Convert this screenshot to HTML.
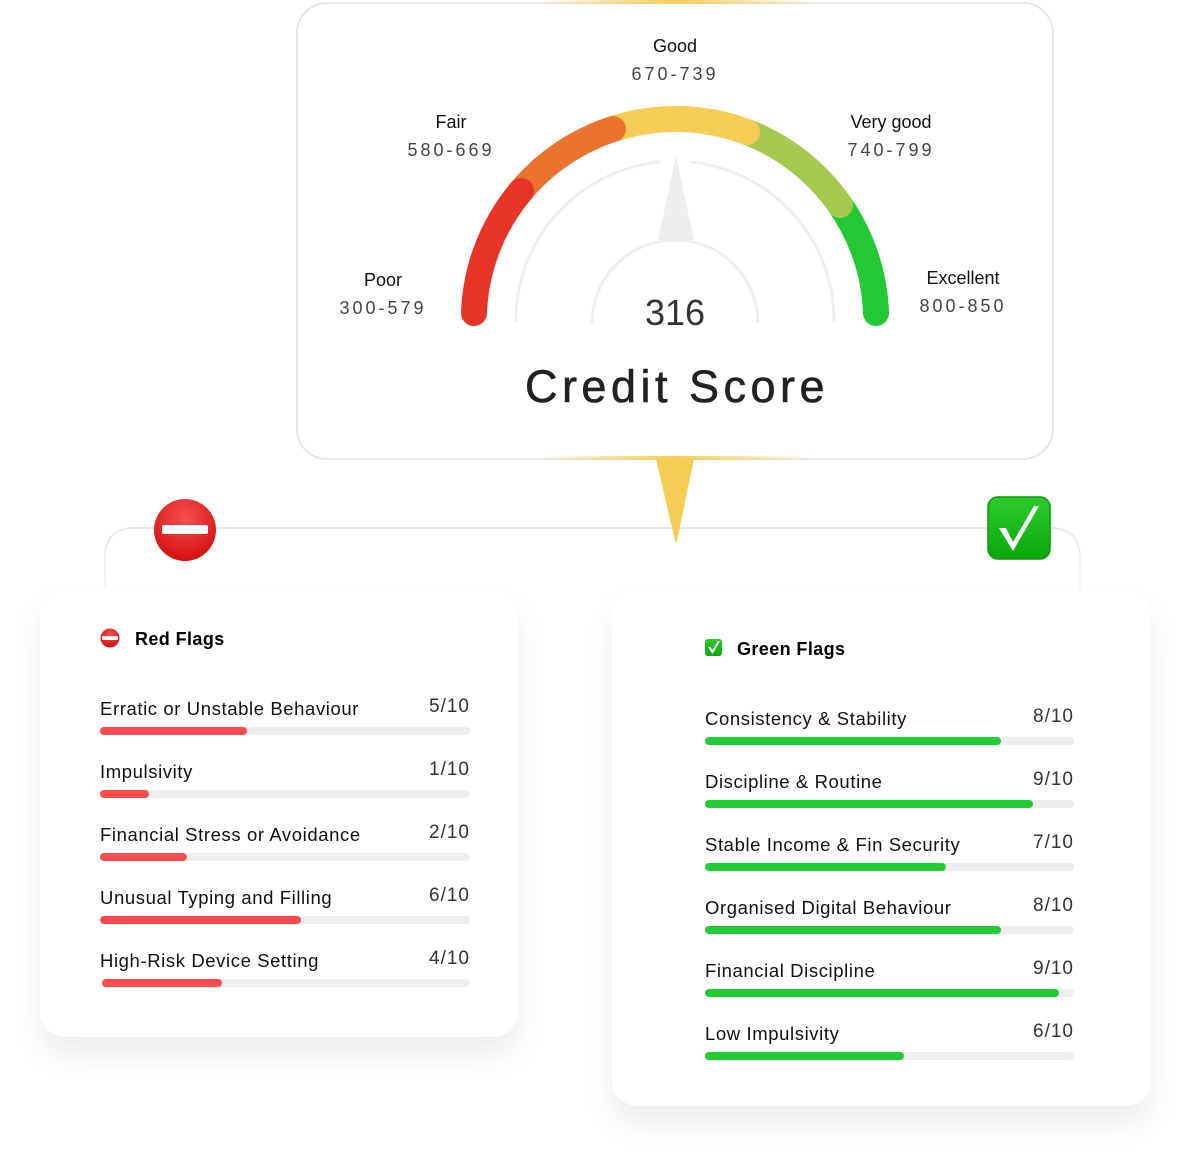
<!DOCTYPE html>
<html><head><meta charset="utf-8"><style>
html,body{margin:0;padding:0;background:#fff;}
svg{display:block;font-family:"Liberation Sans",sans-serif;}
</style></head><body>
<svg width="1192" height="1167" viewBox="0 0 1192 1167" xmlns="http://www.w3.org/2000/svg">
<defs>
<filter id="sh" x="-20%" y="-20%" width="140%" height="150%">
<feDropShadow dx="0" dy="18" stdDeviation="14" flood-color="#000" flood-opacity="0.07"/>
</filter>
<linearGradient id="yl" x1="0" x2="1">
<stop offset="0" stop-color="#f5cd55" stop-opacity="0"/>
<stop offset="0.5" stop-color="#f5cd55"/>
<stop offset="1" stop-color="#f5cd55" stop-opacity="0"/>
</linearGradient>
<linearGradient id="fade" x1="0" y1="0" x2="0" y2="1">
<stop offset="0" stop-color="#e4e7e7"/>
<stop offset="1" stop-color="#e4e7e7" stop-opacity="0.3"/>
</linearGradient>
<radialGradient id="rc" cx="0.5" cy="0.3" r="0.7">
<stop offset="0" stop-color="#f55050"/><stop offset="1" stop-color="#d40f0f"/>
</radialGradient>
<linearGradient id="gc" x1="0" y1="0" x2="0" y2="1">
<stop offset="0" stop-color="#2ccc2c"/><stop offset="1" stop-color="#0aa80a"/>
</linearGradient>
</defs>

<path d="M105 592 V558 Q105 528 135 528 H1050 Q1080 528 1080 558 V592" fill="none" stroke="url(#fade)" stroke-width="2"/>

<rect x="297" y="3" width="756" height="456" rx="30" fill="#fff" stroke="#e4e7e7" stroke-width="2"/>
<rect x="535" y="0" width="280" height="4" fill="url(#yl)"/>
<rect x="535" y="456" width="280" height="4" fill="url(#yl)"/>
<polygon points="656,459 694,459 676,545" fill="#f5cd55"/>

<g fill="none" stroke-linecap="round" stroke-width="26">
<path d="M840 205 A201 201 0 0 1 876 313" stroke="#22c934"/>
<path d="M747 132 A201 201 0 0 1 840 205" stroke="#a5c84f"/>
<path d="M613 129 A201 201 0 0 1 747 132" stroke="#f5cd55"/>
<path d="M521 191 A201 201 0 0 1 613 129" stroke="#ec722f"/>
<path d="M474 313 A201 201 0 0 1 521 191" stroke="#e83426"/>
</g>
<g fill="none" stroke="#eeeeee" stroke-width="3">
<path d="M516 322 A159 159 0 0 1 660 162"/>
<path d="M690 162 A159 159 0 0 1 834 322"/>
<path d="M592 323 A83 83 0 0 1 758 323"/>
</g>
<polygon points="676,155 658,240 694,240" fill="#eeeeee"/>

<g text-anchor="middle">
<text x="675" y="52" font-size="18" fill="#111">Good</text>
<text x="675" y="80" font-size="18" fill="#444" letter-spacing="3">670-739</text>
<text x="451" y="128" font-size="18" fill="#111">Fair</text>
<text x="451" y="156" font-size="18" fill="#444" letter-spacing="3">580-669</text>
<text x="891" y="128" font-size="18" fill="#111">Very good</text>
<text x="891" y="156" font-size="18" fill="#444" letter-spacing="3">740-799</text>
<text x="383" y="286" font-size="18" fill="#111">Poor</text>
<text x="383" y="314" font-size="18" fill="#444" letter-spacing="3">300-579</text>
<text x="963" y="284" font-size="18" fill="#111">Excellent</text>
<text x="963" y="312" font-size="18" fill="#444" letter-spacing="3">800-850</text>
<text x="675" y="325" font-size="36" fill="#333">316</text>
<text x="677" y="402" font-size="45" fill="#222" letter-spacing="4.5" stroke="#222" stroke-width="0.6">Credit Score</text>
</g>

<circle cx="185" cy="530" r="31" fill="url(#rc)"/>
<rect x="162" y="525" width="46" height="9" rx="2" fill="#fafafa"/>
<rect x="988" y="497" width="62" height="62" rx="10" fill="url(#gc)" stroke="#0a9a0a" stroke-width="1.5"/>
<path d="M999 528 L1013 551 L1039 506 L1034 506 L1013 542 L1006 528 Z" fill="#fff"/>

<rect x="40" y="590" width="478" height="447" rx="26" fill="#fff" filter="url(#sh)"/>
<circle cx="110" cy="638" r="9.5" fill="url(#rc)"/>
<rect x="102" y="636" width="16" height="4" rx="1" fill="#fff"/>
<text x="135" y="645" font-size="18" font-weight="bold" fill="#000" letter-spacing="0.4">Red Flags</text>
<g font-size="18.5" fill="#111" letter-spacing="0.6">
<text x="100" y="715">Erratic or Unstable Behaviour</text>
<text x="100" y="778">Impulsivity</text>
<text x="100" y="841">Financial Stress or Avoidance</text>
<text x="100" y="904">Unusual Typing and Filling</text>
<text x="100" y="967">High-Risk Device Setting</text>
</g>
<g font-size="19" fill="#333" text-anchor="end" letter-spacing="1">
<text x="470" y="712">5/10</text>
<text x="470" y="775">1/10</text>
<text x="470" y="838">2/10</text>
<text x="470" y="901">6/10</text>
<text x="470" y="964">4/10</text>
</g>
<g fill="#eeeeee">
<rect x="100" y="727" width="370" height="8" rx="4"/>
<rect x="100" y="790" width="370" height="8" rx="4"/>
<rect x="100" y="853" width="370" height="8" rx="4"/>
<rect x="100" y="916" width="370" height="8" rx="4"/>
<rect x="102" y="979" width="368" height="8" rx="4"/>
</g>
<g fill="#fe4b4d">
<rect x="100" y="727" width="147" height="8" rx="4"/>
<rect x="100" y="790" width="49" height="8" rx="4"/>
<rect x="100" y="853" width="87" height="8" rx="4"/>
<rect x="100" y="916" width="201" height="8" rx="4"/>
<rect x="102" y="979" width="120" height="8" rx="4"/>
</g>

<rect x="612" y="590" width="539" height="516" rx="26" fill="#fff" filter="url(#sh)"/>
<rect x="705" y="639" width="17" height="17" rx="3" fill="url(#gc)"/>
<path d="M708 647 L712.5 654 L720 641 L718 641 L712.5 650 L710.5 647 Z" fill="#fff"/>
<text x="737" y="655" font-size="18" font-weight="bold" fill="#000" letter-spacing="0.4">Green Flags</text>
<g font-size="18.5" fill="#111" letter-spacing="0.6">
<text x="705" y="725">Consistency &amp; Stability</text>
<text x="705" y="788">Discipline &amp; Routine</text>
<text x="705" y="851">Stable Income &amp; Fin Security</text>
<text x="705" y="914">Organised Digital Behaviour</text>
<text x="705" y="977">Financial Discipline</text>
<text x="705" y="1040">Low Impulsivity</text>
</g>
<g font-size="19" fill="#333" text-anchor="end" letter-spacing="1">
<text x="1074" y="722">8/10</text>
<text x="1074" y="785">9/10</text>
<text x="1074" y="848">7/10</text>
<text x="1074" y="911">8/10</text>
<text x="1074" y="974">9/10</text>
<text x="1074" y="1037">6/10</text>
</g>
<g fill="#eeeeee">
<rect x="705" y="737" width="369" height="8" rx="4"/>
<rect x="705" y="800" width="369" height="8" rx="4"/>
<rect x="705" y="863" width="369" height="8" rx="4"/>
<rect x="705" y="926" width="369" height="8" rx="4"/>
<rect x="705" y="989" width="369" height="8" rx="4"/>
<rect x="705" y="1052" width="369" height="8" rx="4"/>
</g>
<g fill="#22cc33">
<rect x="705" y="737" width="296" height="8" rx="4"/>
<rect x="705" y="800" width="328" height="8" rx="4"/>
<rect x="705" y="863" width="241" height="8" rx="4"/>
<rect x="705" y="926" width="296" height="8" rx="4"/>
<rect x="705" y="989" width="354" height="8" rx="4"/>
<rect x="705" y="1052" width="199" height="8" rx="4"/>
</g>
</svg>
</body></html>
